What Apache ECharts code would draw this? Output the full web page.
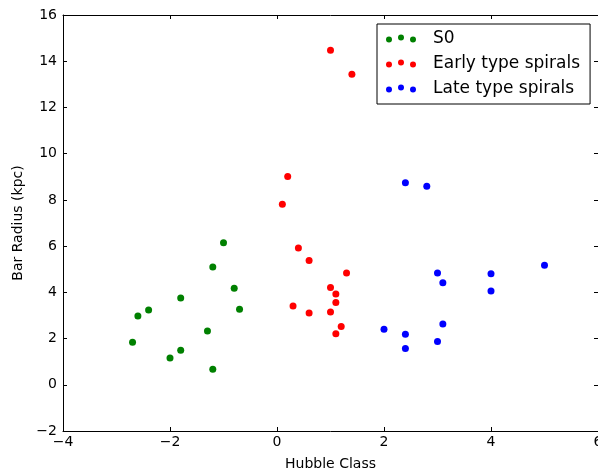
<!DOCTYPE html>
<html>
<head>
<meta charset="utf-8">
<script src="https://cdn.jsdelivr.net/npm/echarts@6/dist/echarts.min.js"></script>
<style>
  html, body { margin: 0; padding: 0; background: #fff; }
  #chart { width: 598px; height: 476px; }
</style>
</head>
<body>
<div id="chart"></div>
<script>
// Hubble class vs. bar radius (kpc), grouped by galaxy type
const seriesNames = ['S0', 'Early type spirals', 'Late type spirals'];
const seriesColors = ['#008000', '#ff0000', '#0000ff'];

const s0Points = [
  [-1.0, 6.15], [-1.2, 5.1], [-0.8, 4.18], [-0.7, 3.27], [-1.8, 3.76],
  [-2.4, 3.24], [-2.6, 2.98], [-2.7, 1.84], [-1.3, 2.33], [-1.8, 1.49],
  [-2.0, 1.16], [-1.2, 0.67]
];
const earlyPoints = [
  [1.0, 14.48], [1.4, 13.44], [0.2, 9.01], [0.1, 7.81], [0.4, 5.92],
  [0.6, 5.38], [1.3, 4.84], [1.0, 4.21], [1.1, 3.93], [1.1, 3.56],
  [0.3, 3.41], [0.6, 3.11], [1.0, 3.15], [1.2, 2.52], [1.1, 2.21]
];
const latePoints = [
  [2.4, 8.74], [2.8, 8.59], [5.0, 5.17], [3.0, 4.84], [4.0, 4.8],
  [3.1, 4.42], [4.0, 4.06], [3.1, 2.63], [2.0, 2.4], [2.4, 2.19],
  [3.0, 1.87], [2.4, 1.57]
];

const xTicks = { min: -4, max: 6, step: 2 };
const yTicks = { min: -2, max: 16, step: 2 };

const FONT = 'DejaVu Sans';
const minusFmt = v => (v < 0 ? '\u2212' + (-v) : String(v));

// legend marker: three dots, the middle one slightly raised
const dotsIcon = 'path://M0,7a3,3 0 1,0 6,0a3,3 0 1,0 -6,0Z' +
  'M12,5a3,3 0 1,0 6,0a3,3 0 1,0 -6,0Z' +
  'M24,7a3,3 0 1,0 6,0a3,3 0 1,0 -6,0Z';

const frameLine = { show: true, onZero: false, lineStyle: { color: '#000', width: 1 } };
const innerTick = { show: true, inside: true, length: 4, lineStyle: { color: '#000' } };

const chart = echarts.init(document.getElementById('chart'), null, { renderer: 'canvas' });
chart.setOption({
  animation: false,
  backgroundColor: '#fff',
  textStyle: { fontFamily: FONT },
  grid: { left: 63, top: 15, right: 0, bottom: 45, containLabel: false, outerBoundsMode: 'none' },
  legend: {
    orient: 'vertical',
    left: 377,
    top: 24,
    padding: [6, 10, 7, 9],
    borderColor: '#000',
    borderWidth: 1,
    backgroundColor: '#fff',
    itemWidth: 30,
    itemHeight: 8,
    itemGap: 8,
    icon: dotsIcon,
    textStyle: { fontFamily: FONT, fontSize: 17, lineHeight: 17, color: '#000', padding: [0, 0, 0, 12] },
    data: seriesNames
  },
  xAxis: [
    {
      type: 'value', min: xTicks.min, max: xTicks.max, interval: xTicks.step,
      name: 'Hubble Class', nameLocation: 'middle', nameGap: 26,
      nameTextStyle: { fontFamily: FONT, fontSize: 14, color: '#000' },
      axisLine: frameLine, axisTick: innerTick, splitLine: { show: false },
      axisLabel: { fontFamily: FONT, fontSize: 14, color: '#000', margin: 4, formatter: minusFmt }
    },
    {
      type: 'value', position: 'top', min: xTicks.min, max: xTicks.max, interval: xTicks.step,
      axisLine: frameLine, axisTick: innerTick, splitLine: { show: false },
      axisLabel: { show: false }
    }
  ],
  yAxis: [
    {
      type: 'value', min: yTicks.min, max: yTicks.max, interval: yTicks.step,
      name: 'Bar Radius (kpc)', nameLocation: 'middle', nameGap: 29,
      nameTextStyle: { fontFamily: FONT, fontSize: 14, color: '#000' },
      axisLine: frameLine, axisTick: innerTick, splitLine: { show: false },
      axisLabel: { fontFamily: FONT, fontSize: 14, color: '#000', margin: 6, formatter: minusFmt }
    },
    {
      type: 'value', position: 'right', min: yTicks.min, max: yTicks.max, interval: yTicks.step,
      axisLine: frameLine, axisTick: innerTick, splitLine: { show: false },
      axisLabel: { show: false }
    }
  ],
  series: [
    { name: seriesNames[0], type: 'scatter', symbolSize: 7, itemStyle: { color: seriesColors[0], opacity: 1 }, data: s0Points },
    { name: seriesNames[1], type: 'scatter', symbolSize: 7, itemStyle: { color: seriesColors[1], opacity: 1 }, data: earlyPoints },
    { name: seriesNames[2], type: 'scatter', symbolSize: 7, itemStyle: { color: seriesColors[2], opacity: 1 }, data: latePoints }
  ]
});
</script>
</body>
</html>
